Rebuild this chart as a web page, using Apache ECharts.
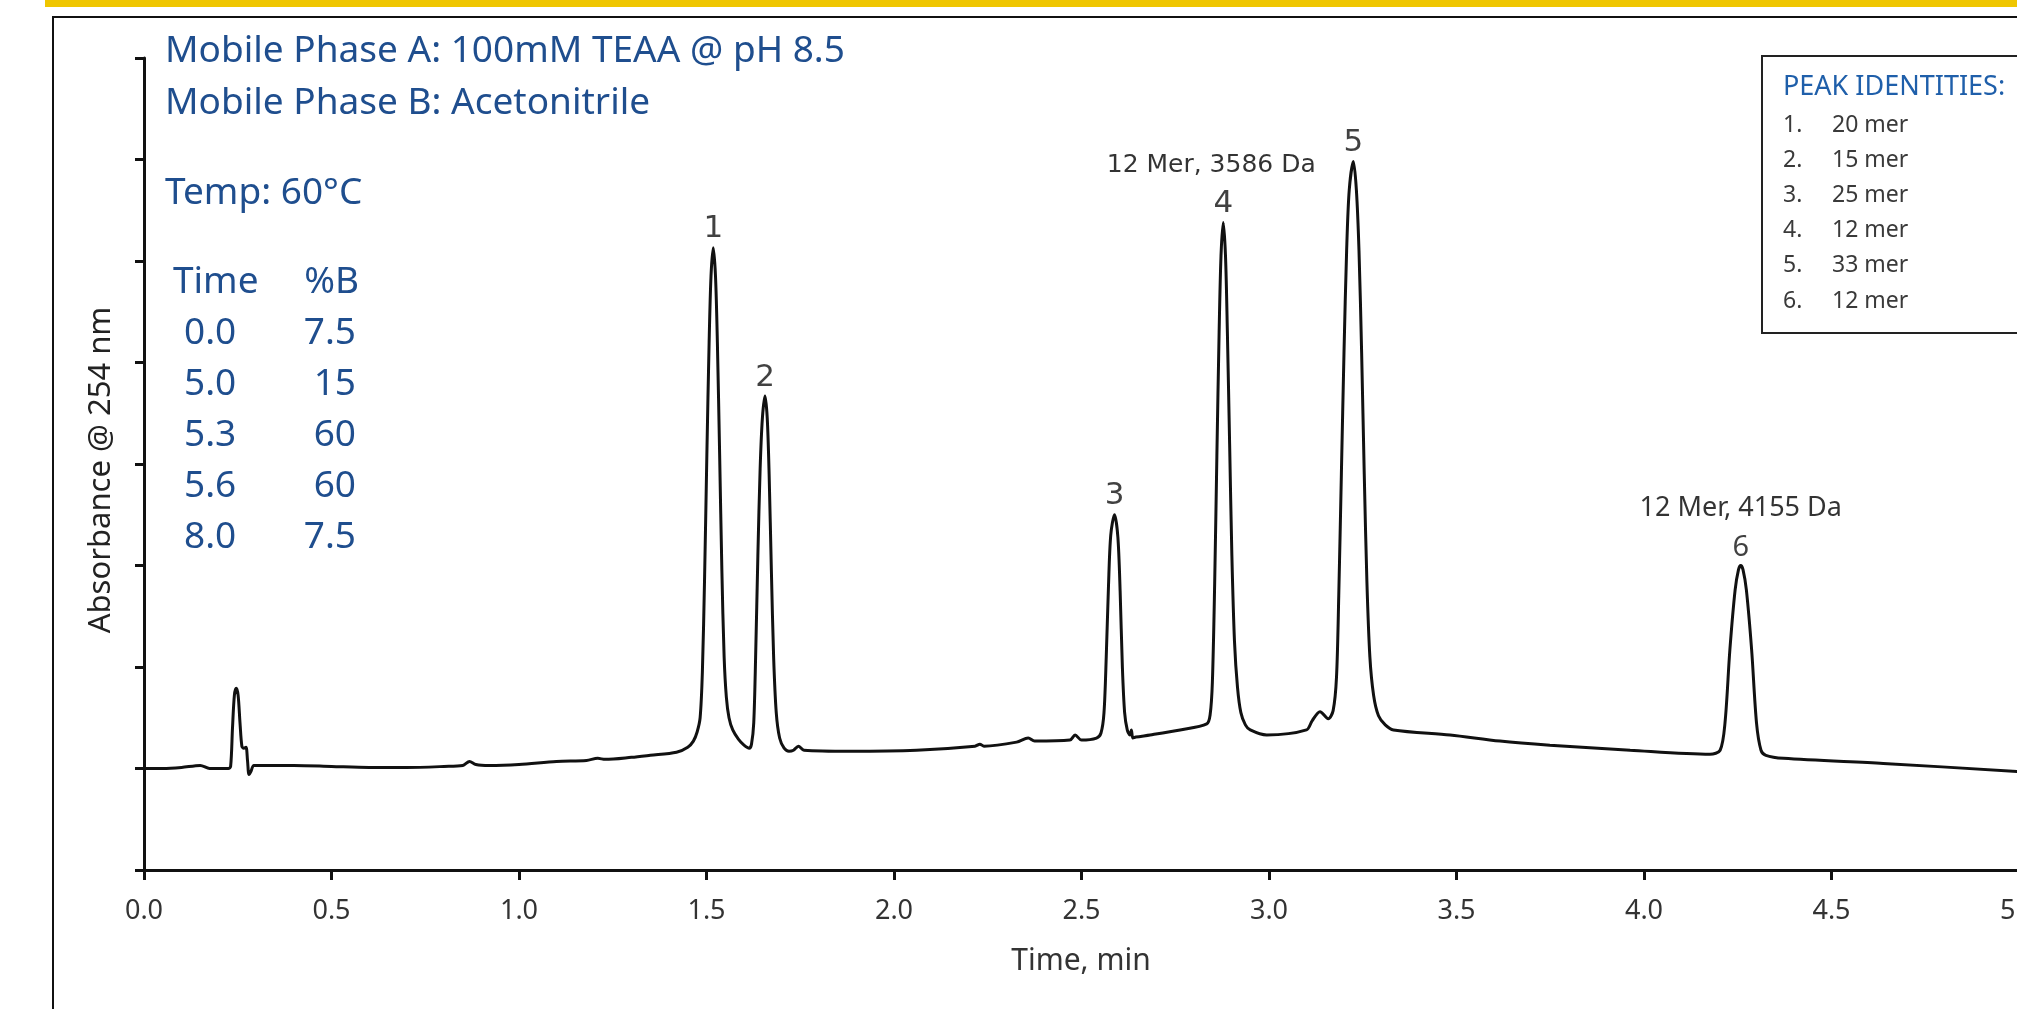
<!DOCTYPE html>
<html>
<head>
<meta charset="utf-8">
<title>Oligo separation</title>
<script src="https://cdn.jsdelivr.net/npm/echarts@6/dist/echarts.min.js"></script>
<style>
  html, body { margin: 0; padding: 0; background: #fff; }
  #chart { width: 2017px; height: 1009px; }
</style>
</head>
<body>
<div id="chart"></div>
<script>
// chromatogram trace, time (min) / absorbance (axis units)
var traceTime = [
  0.000, 0.050, 0.100, 0.150, 0.175, 0.225, 0.231, 0.236, 0.241, 0.246,
  0.251, 0.256, 0.261, 0.266, 0.272, 0.276, 0.280, 0.285, 0.293, 0.320,
  0.400, 0.500, 0.600, 0.700, 0.800, 0.850, 0.868, 0.885, 0.920, 1.000,
  1.100, 1.180, 1.210, 1.230, 1.300, 1.350, 1.420,
  // peak 1
  1.450, 1.465, 1.475, 1.483, 1.489, 1.495, 1.501, 1.507, 1.512, 1.518,
  1.524, 1.529, 1.535, 1.541, 1.547, 1.553, 1.560, 1.570, 1.585, 1.600, 1.614,
  // peak 2
  1.620, 1.626, 1.631, 1.637, 1.643, 1.649, 1.656, 1.662, 1.667, 1.673,
  1.679, 1.686, 1.695, 1.707, 1.720,
  1.732, 1.745, 1.760, 1.883, 2.060, 2.216, 2.229, 2.240, 2.327, 2.358,
  2.375, 2.469, 2.483, 2.500, 2.540,
  // peak 3
  2.552, 2.560, 2.566, 2.572, 2.578, 2.588, 2.597, 2.603, 2.609, 2.615,
  2.622, 2.629, 2.633, 2.637, 2.645,
  2.683, 2.763,
  // peak 4
  2.834, 2.843, 2.849, 2.855, 2.861, 2.867, 2.872, 2.878, 2.884, 2.889,
  2.895, 2.901, 2.908, 2.916, 2.925, 2.937, 2.950,
  2.994, 3.100, 3.115, 3.136, 3.158,
  // peak 5
  3.171, 3.180, 3.186, 3.193, 3.200, 3.207, 3.214, 3.225, 3.233, 3.240,
  3.247, 3.254, 3.261, 3.269, 3.279, 3.292, 3.310, 3.332,
  3.483, 3.616, 3.749, 3.963,
  // peak 6
  4.176, 4.203, 4.216, 4.229, 4.243, 4.252, 4.258, 4.264, 4.273, 4.287,
  4.300, 4.312, 4.325, 4.372,
  4.638, 5.000
];
var traceAbs = [
  1.00, 1.00, 1.01, 1.03, 1.00, 1.00, 1.02, 1.40, 1.72, 1.79,
  1.72, 1.45, 1.22, 1.20, 1.21, 1.08, 0.94, 0.97, 1.03, 1.03,
  1.03, 1.02, 1.01, 1.01, 1.02, 1.03, 1.07, 1.04, 1.03, 1.04,
  1.07, 1.08, 1.10, 1.09, 1.11, 1.13, 1.16,
  1.21, 1.27, 1.36, 1.50, 1.95, 2.90, 4.10, 5.20, 5.85, 6.13,
  5.85, 5.20, 4.10, 2.95, 2.10, 1.70, 1.50, 1.38, 1.29, 1.23, 1.20,
  1.24, 1.45, 2.10, 3.10, 3.95, 4.45, 4.67, 4.45, 3.90, 2.95,
  2.10, 1.55, 1.30, 1.20, 1.17,
  1.18, 1.22, 1.18, 1.17, 1.18, 1.22, 1.24, 1.22, 1.26, 1.30,
  1.27, 1.28, 1.33, 1.28, 1.30,
  1.35, 1.55, 2.10, 2.80, 3.30, 3.50, 3.28, 2.75, 2.00, 1.55,
  1.38, 1.33, 1.38, 1.30, 1.31,
  1.33, 1.38,
  1.44, 1.53, 1.85, 2.80, 4.08, 5.30, 6.05, 6.38, 6.05, 5.30,
  4.20, 3.10, 2.25, 1.80, 1.55, 1.43, 1.38,
  1.33, 1.38, 1.47, 1.56, 1.49,
  1.57, 1.90, 2.70, 3.90, 5.10, 6.10, 6.70, 6.98, 6.70, 6.10,
  5.10, 3.90, 2.85, 2.10, 1.72, 1.52, 1.43, 1.38,
  1.33, 1.27, 1.23, 1.18,
  1.14, 1.18, 1.45, 2.17, 2.76, 2.96, 3.00, 2.96, 2.76, 2.17,
  1.45, 1.18, 1.13, 1.10,
  1.05, 0.97
];

// peak apexes
var peakNames = ['1', '2', '3', '4', '5', '6'];
var peakTime = [1.518, 1.656, 2.588, 2.878, 3.225, 4.258];
var peakTop = [6.13, 4.67, 3.50, 6.38, 6.98, 3.00];
var peakNotes = ['', '', '', '12 Mer, 3586 Da', '', '12 Mer, 4155 Da'];

// peak identities box
var identities = ['20 mer', '15 mer', '25 mer', '12 mer', '33 mer', '12 mer'];

// gradient table
var conditions = ['Mobile Phase A: 100mM TEAA @ pH 8.5', 'Mobile Phase B: Acetonitrile'];
var tempText = 'Temp: 60°C';
var gradTime = ['0.0', '5.0', '5.3', '5.6', '8.0'];
var gradB = ['7.5', '15', '60', '60', '7.5'];

var xTicks = { min: 0, max: 5, step: 0.5 };

var blue = '#1F4E8E';
var sans = '"Noto Sans", "Open Sans", sans-serif';

var trace = [];
for (var i = 0; i < traceTime.length; i++) {
  trace.push([traceTime[i], traceAbs[i]]);
}

var peakLabels = [];
var noteLabels = [];
for (var j = 0; j < peakTime.length; j++) {
  var last = j === peakTime.length - 1;
  peakLabels.push({
    value: [peakTime[j], peakTop[j]],
    label: {
      formatter: peakNames[j],
      fontFamily: last ? sans : '"DejaVu Sans", sans-serif',
      fontSize: last ? 29 : 31
    }
  });
  if (peakNotes[j]) {
    noteLabels.push({
      value: [peakTime[j], peakTop[j]],
      label: {
        formatter: peakNotes[j],
        fontFamily: last ? sans : '"DejaVu Sans", sans-serif',
        fontSize: last ? 27 : 25,
        offset: [last ? 0 : -12, 0]
      }
    });
  }
}

// texts drawn on top of the plot
var graphics = [
  { type: 'rect', shape: { x: 45, y: 0, width: 1990, height: 7 }, style: { fill: '#EFC600' } },
  { type: 'rect', shape: { x: 53, y: 17, width: 2010, height: 1040 }, style: { fill: null, stroke: '#111', lineWidth: 2 } },
  { type: 'text', x: 101, y: 470, rotation: Math.PI / 2,
    style: { text: 'Absorbance @ 254 nm', fontSize: 31, fontFamily: sans, fill: '#222', align: 'center', verticalAlign: 'middle' } },
  { type: 'text', x: 1081, y: 961,
    style: { text: 'Time, min', fontSize: 30, fontFamily: sans, fill: '#333', align: 'center', verticalAlign: 'middle' } },
  { type: 'text', x: 165, y: 51, style: { text: conditions[0], fontSize: 37, fontFamily: sans, fill: blue, verticalAlign: 'middle' } },
  { type: 'text', x: 165, y: 103, style: { text: conditions[1], fontSize: 37, fontFamily: sans, fill: blue, verticalAlign: 'middle' } },
  { type: 'text', x: 165, y: 193, style: { text: tempText, fontSize: 37, fontFamily: sans, fill: blue, verticalAlign: 'middle' } },
  { type: 'text', x: 173, y: 282, style: { text: 'Time', fontSize: 37, fontFamily: sans, fill: blue, verticalAlign: 'middle' } },
  { type: 'text', x: 359, y: 282, style: { text: '%B', fontSize: 37, fontFamily: sans, fill: blue, align: 'right', verticalAlign: 'middle' } },
  // legend box
  { type: 'rect', shape: { x: 1762, y: 56, width: 300, height: 277 }, style: { fill: '#fff', stroke: '#222', lineWidth: 2 } },
  { type: 'text', x: 1783, y: 87, style: { text: 'PEAK IDENTITIES:', fontSize: 27, fontFamily: sans, fill: '#1F5FAA', verticalAlign: 'middle' } }
];
for (var r = 0; r < gradTime.length; r++) {
  graphics.push({ type: 'text', x: 184, y: 333 + r * 51,
    style: { text: gradTime[r], fontSize: 37, fontFamily: sans, fill: blue, verticalAlign: 'middle' } });
  graphics.push({ type: 'text', x: 356, y: 333 + r * 51,
    style: { text: gradB[r], fontSize: 37, fontFamily: sans, fill: blue, align: 'right', verticalAlign: 'middle' } });
}
for (var k = 0; k < identities.length; k++) {
  graphics.push({ type: 'text', x: 1783, y: 125 + k * 35.2,
    style: { text: (k + 1) + '.', fontSize: 23, fontFamily: sans, fill: '#3a3a3a', verticalAlign: 'middle' } });
  graphics.push({ type: 'text', x: 1832, y: 125 + k * 35.2,
    style: { text: identities[k], fontSize: 23, fontFamily: sans, fill: '#3a3a3a', verticalAlign: 'middle' } });
}

var myChart = echarts.init(document.getElementById('chart'));
myChart.setOption({
  animation: false,
  backgroundColor: '#fff',
  grid: { left: 144, top: 58, right: -2, bottom: 139, outerBoundsMode: 'none' },
  xAxis: {
    type: 'value',
    min: xTicks.min,
    max: xTicks.max,
    interval: xTicks.step,
    axisLine: { lineStyle: { color: '#111', width: 3 } },
    axisTick: { length: 10, lineStyle: { color: '#111', width: 3 } },
    axisLabel: {
      margin: 28, fontSize: 27, fontFamily: sans, color: '#333',
      formatter: function (v) { return v.toFixed(1); }
    },
    splitLine: { show: false }
  },
  yAxis: {
    type: 'value',
    min: 0,
    max: 8,
    interval: 1,
    axisLine: { show: true, lineStyle: { color: '#111', width: 3 } },
    axisTick: { show: true, length: 9, lineStyle: { color: '#111', width: 3 } },
    axisLabel: { show: false },
    splitLine: { show: false }
  },
  series: [
    {
      type: 'line',
      data: trace,
      showSymbol: false,
      smooth: 0.3,
      lineStyle: { color: '#111', width: 3 },
      z: 3
    },
    {
      type: 'scatter',
      data: peakLabels,
      symbolSize: 0,
      label: { show: true, position: 'top', distance: 3, color: '#111' },
      z: 4
    },
    {
      type: 'scatter',
      data: noteLabels,
      symbolSize: 0,
      label: { show: true, position: 'top', distance: 44, color: '#000' },
      z: 4
    }
  ],
  graphic: graphics
});
</script>
</body>
</html>
